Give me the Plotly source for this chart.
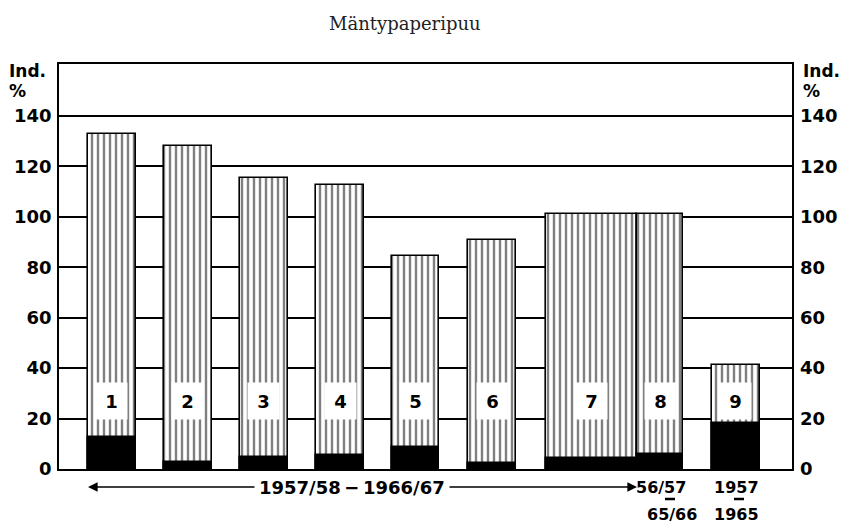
import plotly.graph_objects as go

# ---- data ----
bar_labels = ["1", "2", "3", "4", "5", "6", "7", "8", "9"]
total_index = [132.9, 128.2, 115.2, 112.6, 84.5, 90.8, 101.2, 101.2, 41.3]
black_part = [12.6, 2.8, 4.7, 5.5, 8.7, 2.4, 4.3, 5.9, 18.2]
y_ticks = [0, 20, 40, 60, 80, 100, 120, 140]
title_text = "Mäntypaperipuu"
period_text = "1957/58\u2009\u2212\u20091966/67"

# ---- styling (bar geometry on category axis) ----
widths = [0.63, 0.62, 0.62, 0.63, 0.61, 0.63, 1.197, 0.605, 0.63]
offsets = [-0.316, -0.31, -0.31, -0.31, -0.31, -0.31, -0.289, -0.092, -0.105]

FONT = "DejaVu Sans"
fig = go.Figure()

fig.add_trace(go.Bar(
    x=bar_labels, y=total_index, width=widths, offset=offsets,
    marker=dict(color="white", line=dict(color="black", width=1.6),
                pattern=dict(shape="|", size=6, solidity=0.4,
                             fgcolor="black", bgcolor="white", fillmode="overlay")),
    showlegend=False, hoverinfo="skip"))
fig.add_trace(go.Bar(
    x=bar_labels, y=black_part, width=widths, offset=offsets,
    marker=dict(color="black", line=dict(color="black", width=1.6)),
    showlegend=False, hoverinfo="skip"))
# invisible trace so the right-hand axis is drawn
fig.add_trace(go.Scatter(x=[bar_labels[0]], y=[0], yaxis="y2", mode="markers",
                         marker=dict(size=1, opacity=0), showlegend=False,
                         hoverinfo="skip"))

annotations = []
for i, lab in enumerate(bar_labels):
    annotations.append(dict(
        x=i + offsets[i] + widths[i] / 2, y=27, xref="x", yref="y",
        text=f"<b>{lab}</b>", showarrow=False, bgcolor="white",
        width=31, height=36, borderpad=0,
        font=dict(family=FONT, size=18, color="black")))

PL, PR, PT, PB = 59, 792, 64, 469
def px(xp):
    return (xp - PL) / (PR - PL)
def py(yp):
    return (PB - yp) / (PB - PT)

def txt(x, y, t, size=17, anchor="center", family=FONT, bold=True, color="black"):
    annotations.append(dict(x=px(x), y=py(y), xref="paper", yref="paper",
                            text=f"<b>{t}</b>" if bold else t, showarrow=False,
                            xanchor=anchor, yanchor="middle",
                            font=dict(family=family, size=size, color=color)))

# unit labels
txt(7, 71, "Ind.", anchor="left")
txt(7, 91, "%", anchor="left")
txt(801, 71, "Ind.", anchor="left")
txt(801, 91, "%", anchor="left")

# bottom period text + arrows
txt(352, 487, period_text, size=18)
txt(661, 487, "56/57", size=16)
txt(672, 514, "65/66", size=16)
txt(736, 487, "1957", size=16)
txt(736, 514, "1965", size=16)

annotations.append(dict(x=px(88), y=py(487), xref="paper", yref="paper", text="",
                        showarrow=True, ax=168, ay=0, arrowhead=2, arrowsize=1.2,
                        arrowwidth=1.6, arrowcolor="black"))
annotations.append(dict(x=px(637), y=py(487), xref="paper", yref="paper", text="",
                        showarrow=True, ax=-189, ay=0, arrowhead=2, arrowsize=1.2,
                        arrowwidth=1.6, arrowcolor="black"))

# title
txt(405, 23, title_text, size=18, family="DejaVu Serif", bold=False, color="#222")

# short range dashes between the two-line year labels
shapes = []
for xc in (670, 739):
    shapes.append(dict(type="line", xref="paper", yref="paper",
                       x0=px(xc - 5), x1=px(xc + 5), y0=py(499), y1=py(499),
                       line=dict(color="black", width=2.5)))

fig.update_layout(
    width=846, height=528,
    margin=dict(l=PL, r=846 - PR, t=PT, b=528 - PB, autoexpand=False),
    paper_bgcolor="white", plot_bgcolor="white",
    barmode="overlay", bargap=0,
    annotations=annotations, shapes=shapes,
    xaxis=dict(range=[-0.697, 8.947], showticklabels=False, showgrid=False,
               showline=True, linecolor="black", linewidth=2, mirror=True,
               zeroline=False, ticks="", automargin=False),
    yaxis=dict(range=[0, 160.6], tickvals=y_ticks, showgrid=True,
               gridcolor="black", gridwidth=1.5, showline=True, linecolor="black",
               linewidth=1.6, mirror=True, zeroline=False, ticks="", automargin=False,
               ticklabelstandoff=2,
               tickfont=dict(family=FONT, size=18, color="black", weight="bold")),
    yaxis2=dict(range=[0, 160.6], tickvals=y_ticks, overlaying="y", side="right",
                showgrid=False, showline=False, zeroline=False, ticks="",
                automargin=False, ticklabelstandoff=7,
                tickfont=dict(family=FONT, size=18, color="black", weight="bold")),
)

fig.write_html("out.html", config={"displayModeBar": False},
               post_script="document.body.style.margin='0';")
